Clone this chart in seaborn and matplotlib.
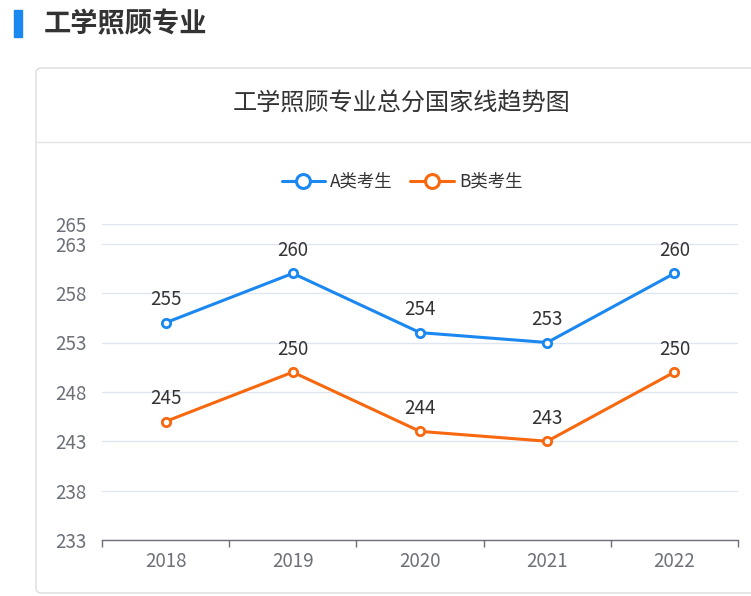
import matplotlib
matplotlib.use("Agg")
import matplotlib.pyplot as plt
import seaborn as sns
import pandas as pd
from matplotlib.patches import FancyBboxPatch, Rectangle
from matplotlib.lines import Line2D

years = ["2018", "2019", "2020", "2021", "2022"]
series_a = [255, 260, 254, 253, 260]
series_b = [245, 250, 244, 243, 250]
series_names = ["A类考生", "B类考生"]
y_ticks = [233, 238, 243, 248, 253, 258, 263, 265]
page_title = "工学照顾专业"
chart_title = "工学照顾专业总分国家线趋势图"

colors = ["#1a88f0", "#f7680f"]

sns.set_theme(style="white")
plt.rcParams['font.family'] = ['Noto Sans CJK SC', 'DejaVu Sans']

W, H = 751, 596
fig = plt.figure(figsize=(W / 100, H / 100), dpi=100)

def fx(px):
    return px / W

def fy(py):
    return 1 - py / H

# header
fig.patches.append(Rectangle((fx(14), fy(37)), fx(8), 27 / H, transform=fig.transFigure,
                             color="#1a88f0", zorder=1))
fig.text(fx(44), fy(24), page_title, fontsize=19.6, fontweight="bold", color="#333333",
         va="center", ha="left")

# card
card = FancyBboxPatch((fx(36), fy(593)), fx(740), (593 - 68) / H,
                      boxstyle="round,pad=0,rounding_size=0.008",
                      transform=fig.transFigure, facecolor="white",
                      edgecolor="#dcdcdc", linewidth=1, zorder=-1)
fig.patches.append(card)
fig.lines.append(Line2D([fx(37), 1.0], [fy(142), fy(142)], transform=fig.transFigure,
                        color="#e4e4e4", linewidth=1))
fig.text(fx(402), fy(104), chart_title, fontsize=17.4, color="#333333",
         ha="center", va="center")

ax = fig.add_axes([fx(102), fy(540), fx(738 - 102), (540 - 224) / H])
ax.set_facecolor("none")
ax.set_zorder(3)

df = pd.DataFrame({
    "year": years * 2,
    "value": series_a + series_b,
    "series": [series_names[0]] * len(years) + [series_names[1]] * len(years),
})

sns.lineplot(data=df, x="year", y="value", hue="series", palette=colors, ax=ax,
             marker="o", markersize=6, markerfacecolor="white", markeredgewidth=2,
             linewidth=2.2, legend=False, zorder=3)
for line, c in zip(ax.lines, colors):
    line.set_markeredgecolor(c)

for vals in (series_a, series_b):
    for i, v in enumerate(vals):
        ax.annotate(str(v), (i, v), xytext=(0, 9), textcoords="offset points",
                    ha="center", va="bottom", fontsize=13.5, color="#333333")

ax.set_xlim(-0.5, len(years) - 0.5)
ax.set_ylim(233, 265)
ax.set_yticks(y_ticks)
ax.set_yticklabels([str(t) for t in y_ticks])
ax.set_xticks(range(len(years)))
ax.set_xticklabels(years)
ax.set_xticks([i - 0.5 for i in range(len(years) + 1)], minor=True)
ax.tick_params(axis="x", which="major", bottom=False, length=0, pad=8, labelsize=13.5,
               labelcolor="#6e7079")
ax.tick_params(axis="x", which="minor", bottom=True, length=5, width=1, color="#6e7079",
               direction="out")
ax.tick_params(axis="y", length=0, pad=11, labelsize=13.5, labelcolor="#6e7079")
ax.set_xlabel("")
ax.set_ylabel("")
for s in ["top", "right", "left"]:
    ax.spines[s].set_visible(False)
ax.spines["bottom"].set_color("#6e7079")
ax.spines["bottom"].set_linewidth(1)
ax.yaxis.grid(True, color="#e0e6f1", linewidth=1)
ax.xaxis.grid(False)
ax.set_axisbelow(True)

handles = [Line2D([0], [0], color=c, linewidth=2.2, marker="o", markersize=10,
                  markerfacecolor="white", markeredgewidth=2.2, markeredgecolor=c)
           for c in colors]
fig.legend(handles, series_names, loc="center", bbox_to_anchor=(fx(402), fy(182)),
           ncol=2, frameon=False, fontsize=12.5, handlelength=2.5, handletextpad=0.3,
           columnspacing=1.0, labelcolor="#333333")

fig.savefig("out.png", dpi=100)
